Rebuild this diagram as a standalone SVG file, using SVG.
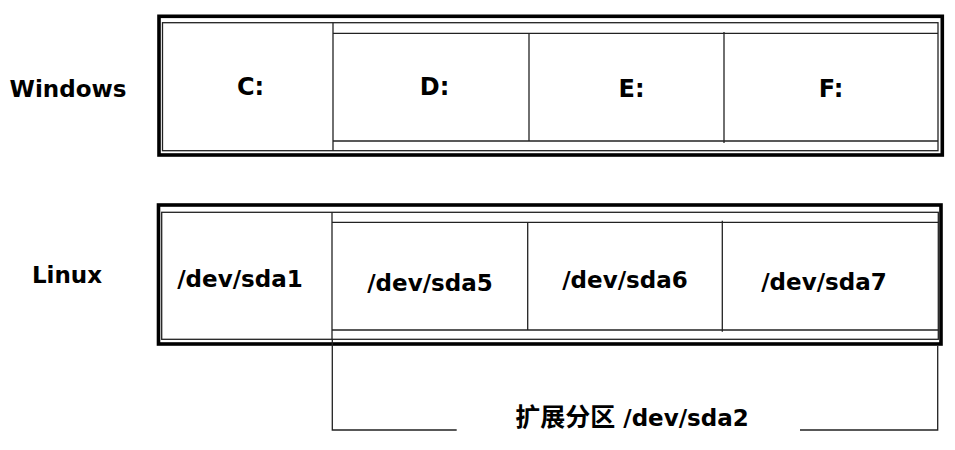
<svg xmlns="http://www.w3.org/2000/svg" width="955" height="450" viewBox="0 0 955 450">
<style>
.thick{fill:none;stroke:#000;stroke-width:3.6}
.thin{fill:none;stroke:#222;stroke-width:1.3}
.ln{stroke:#222;stroke-width:1.3;fill:none}
text{font-family:"DejaVu Sans","Noto Sans CJK SC",sans-serif;font-weight:bold;font-size:23px;fill:#000;text-anchor:middle}
.big{font-size:24px}
</style>
<rect width="955" height="450" fill="#fff"/>
<text x="68" y="97">Windows</text>
<text x="67" y="283">Linux</text>
<g id="windows-disk">
<rect class="thick" x="159" y="16.3" width="783.3" height="138.7"/>
<rect class="thin" x="162.5" y="22.7" width="775.5" height="128"/>
</g>
<g id="win-C"><line class="ln" x1="333" y1="22.7" x2="333" y2="150.7"/><text class="big" x="250.5" y="95">C:</text></g>
<g id="win-ext"><line class="ln" x1="333" y1="33.3" x2="938" y2="33.3"/><line class="ln" x1="333" y1="141" x2="938" y2="141"/></g>
<g id="win-D"><text class="big" x="434.5" y="95">D:</text></g>
<g id="win-E"><line class="ln" x1="529" y1="33.3" x2="529" y2="141"/><text class="big" x="631.5" y="97">E:</text></g>
<g id="win-F"><line class="ln" x1="724" y1="32" x2="724" y2="143"/><text class="big" x="831" y="97">F:</text></g>
<g id="linux-disk">
<rect class="thick" x="158.5" y="205" width="782.5" height="139"/>
<rect class="thin" x="161.7" y="212.3" width="776.6" height="127"/>
</g>
<g id="sda1"><line class="ln" x1="332" y1="212.3" x2="332" y2="339.3"/><text x="240" y="287">/dev/sda1</text></g>
<g id="linux-ext"><line class="ln" x1="332" y1="222.3" x2="938.3" y2="222.3"/><line class="ln" x1="332" y1="330" x2="938.3" y2="330"/></g>
<g id="sda5"><text x="430" y="290.5">/dev/sda5</text></g>
<g id="sda6"><line class="ln" x1="527.7" y1="222.3" x2="527.7" y2="330"/><text x="625" y="288">/dev/sda6</text></g>
<g id="sda7"><line class="ln" x1="722.3" y1="220.7" x2="722.3" y2="331.7"/><text x="824" y="290">/dev/sda7</text></g>
<g id="connectors">
<polyline class="ln" points="332.3,339.3 332.3,430 456.7,430"/>
<polyline class="ln" points="937.7,346 937.7,430 800,430"/>
</g>
<g id="sda2-label"><text x="632" y="426"><tspan font-size="25">扩展分区</tspan> /dev/sda2</text></g>
</svg>
